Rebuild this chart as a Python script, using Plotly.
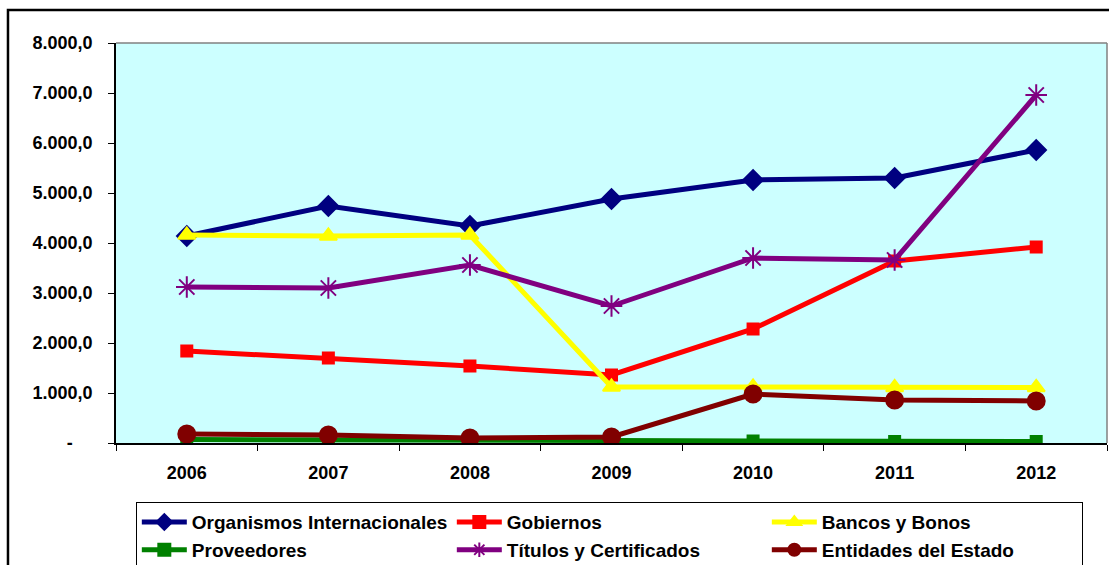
import plotly.graph_objs as go

# data
years = ['2006', '2007', '2008', '2009', '2010', '2011', '2012']
organismos = [4140, 4740, 4340, 4880, 5260, 5300, 5860]
gobiernos = [1840, 1700, 1540, 1360, 2280, 3640, 3920]
bancos = [4160, 4140, 4160, 1120, 1120, 1110, 1110]
proveedores = [70, 70, 50, 50, 40, 30, 30]
titulos = [3120, 3100, 3560, 2740, 3700, 3660, 6960]
entidades = [180, 160, 100, 120, 980, 860, 840]

y_ticks = [0, 1000, 2000, 3000, 4000, 5000, 6000, 7000, 8000]
y_labels = ['-\u00a0\u00a0\u00a0\u00a0', '1.000,0', '2.000,0', '3.000,0', '4.000,0',
            '5.000,0', '6.000,0', '7.000,0', '8.000,0']

series = [
    ('Organismos Internacionales', organismos, '#000080', 'diamond', 15),
    ('Gobiernos', gobiernos, '#FF0000', 'square', 11),
    ('Bancos y Bonos', bancos, '#FFFF00', 'triangle-up', 15),
    ('Proveedores', proveedores, '#008000', 'square', 11),
    ('Títulos y Certificados', titulos, '#800080', 'asterisk-open', 18),
    ('Entidades del Estado', entidades, '#800000', 'circle', 17),
]

data = [
    go.Scatter(
        x=years, y=vals, name=name, mode='lines+markers',
        line=dict(color=col, width=5),
        marker=dict(symbol=sym, size=sz, color=col,
                    line=dict(color=col, width=2))
    ) for name, vals, col, sym, sz in series
]

fam = 'Liberation Sans, Arial, sans-serif'
tick_font = dict(family=fam, size=18, color='black', weight='bold')

layout = go.Layout(
    width=1109, height=565,
    margin=dict(l=116, r=2, t=43, b=122, autoexpand=False),
    paper_bgcolor='white',
    plot_bgcolor='#CCFFFF',
    font=dict(family=fam, size=16, color='black'),
    showlegend=True,
    xaxis=dict(
        type='category', showgrid=False, tickson='boundaries',
        ticks='outside', ticklen=6, tickcolor='black',
        showline=True, linecolor='black', linewidth=1.5,
        tickfont=tick_font, ticklabelstandoff=13,
        range=[-0.5, 6.5]
    ),
    yaxis=dict(
        range=[0, 8000], tickvals=y_ticks, ticktext=y_labels,
        showgrid=False, zeroline=False,
        ticks='outside', ticklen=6, tickcolor='black',
        showline=True, linecolor='black', linewidth=1.5,
        tickfont=tick_font, ticklabelstandoff=12
    ),
    legend=dict(
        orientation='h', x=0.02, y=-0.148, xanchor='left', yanchor='top',
        entrywidth=255, entrywidthmode='pixels',
        bordercolor='black', borderwidth=1, bgcolor='white',
        font=dict(family=fam, size=19, color='black', weight='bold'),
        itemwidth=45, itemsizing='constant', tracegroupgap=0
    ),
    shapes=[
        # grey frame on top/right of plot area
        dict(type='line', xref='paper', yref='paper', x0=0, x1=1, y0=1, y1=1,
             line=dict(color='#808080', width=1.5)),
        dict(type='line', xref='paper', yref='paper', x0=1, x1=1, y0=0, y1=1,
             line=dict(color='#808080', width=1.5)),
        # outer chart border
        dict(type='rect', xref='paper', yref='paper',
             x0=-0.109, x1=1.01, y0=-0.4, y1=1.0825,
             line=dict(color='black', width=2.5), layer='below'),
    ]
)

fig = go.Figure(data=data, layout=layout)
fig.write_html('out.html', config={'displayModeBar': False},
               post_script="document.body.style.margin='0';"
                           "document.body.style.overflow='hidden';")
